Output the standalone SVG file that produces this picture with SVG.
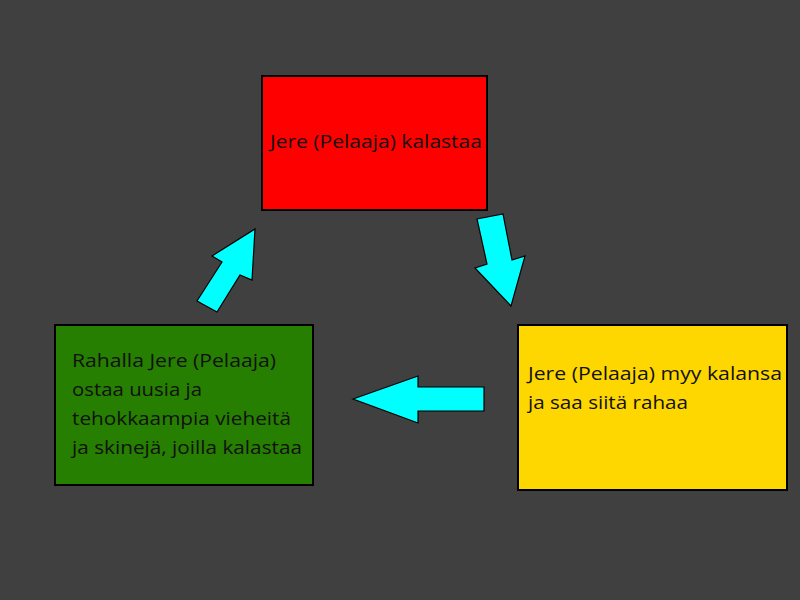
<svg xmlns="http://www.w3.org/2000/svg" width="800" height="600" viewBox="0 0 800 600">
<style>
.box{stroke:#000;stroke-width:2}
.t{font-family:"Open Sans","Noto Sans",sans-serif;font-size:19px;fill:#111}
.arr{fill:#00FFFF;stroke:#000;stroke-width:1.2;stroke-linejoin:miter}
</style>
<rect x="0" y="0" width="800" height="600" fill="#404040"/>
<g id="node-fish">
<rect class="box" x="262" y="76" width="225" height="134" fill="#FF0000"/>
<text class="t" x="270" y="148" textLength="212" lengthAdjust="spacingAndGlyphs">Jere (Pelaaja) kalastaa</text>
</g>
<g id="node-sell">
<rect class="box" x="518" y="325" width="269" height="165" fill="#FFD700"/>
<text class="t" x="528" y="380" textLength="254" lengthAdjust="spacingAndGlyphs">Jere (Pelaaja) myy kalansa</text>
<text class="t" x="528" y="409" textLength="160" lengthAdjust="spacingAndGlyphs">ja saa siitä rahaa</text>
</g>
<g id="node-buy">
<rect class="box" x="55" y="325" width="258" height="160" fill="#267F00"/>
<text class="t" x="72" y="367" textLength="204" lengthAdjust="spacingAndGlyphs">Rahalla Jere (Pelaaja)</text>
<text class="t" x="72" y="396" textLength="130" lengthAdjust="spacingAndGlyphs">ostaa uusia ja</text>
<text class="t" x="72" y="425" textLength="219" lengthAdjust="spacingAndGlyphs">tehokkaampia vieheitä</text>
<text class="t" x="72" y="454" textLength="230" lengthAdjust="spacingAndGlyphs">ja skinejä, joilla kalastaa</text>
</g>
<g id="connectors">
<polygon class="arr" points="477,219 503,214 512,260 525,256 511,306 475,268 487,264"/>
<polygon class="arr" points="353,399 418,376 418,387 484,387 484,411 418,411 418,423"/>
<polygon class="arr" points="255,229 252,280 240,275 217,312 197,301 222,262 212,256"/>
</g>
</svg>
